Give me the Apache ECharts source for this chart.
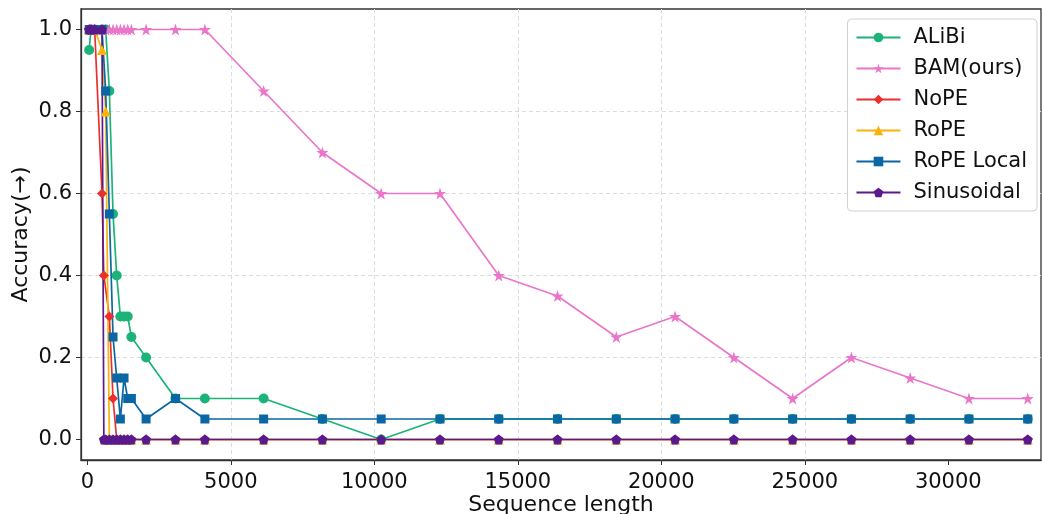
<!DOCTYPE html>
<html><head><meta charset="utf-8">
<script src="https://cdn.jsdelivr.net/npm/echarts@6/dist/echarts.min.js"></script>
<style>html,body{margin:0;padding:0;background:#fff}#c{width:1042px;height:514px}</style>
</head><body><div id="c"></div>
<script>
// Sequence lengths (x values)
const lengths = [64, 128, 256, 512, 576, 640, 768, 896, 1024, 1152, 1280, 1408, 1536,
  2048, 3072, 4096, 6144, 8192, 10240, 12288, 14336, 16384, 18432, 20480, 22528, 24576, 26624, 28672, 30720, 32768];
// Accuracy per method (null = not evaluated at this length)
const alibi = [0.95, 1.0, 1.0, 1.0, null, 1.0, 0.85, 0.55, 0.4, 0.3, 0.3, 0.3, 0.25,
  0.2, 0.1, 0.1, 0.1, 0.05, 0.0, 0.05, 0.05, 0.05, 0.05, 0.05, 0.05, 0.05, 0.05, 0.05, 0.05, 0.05];
const bam = [1.0, 1.0, 1.0, 1.0, null, 1.0, 1.0, 1.0, 1.0, 1.0, 1.0, 1.0, 1.0,
  1.0, 1.0, 1.0, 0.85, 0.7, 0.6, 0.6, 0.4, 0.35, 0.25, 0.3, 0.2, 0.1, 0.2, 0.15, 0.1, 0.1];
const nope = [1.0, 1.0, 1.0, 0.6, 0.4, null, 0.3, 0.1, 0.0, 0.0, 0.0, 0.0, 0.0,
  0.0, 0.0, 0.0, 0.0, 0.0, 0.0, 0.0, 0.0, 0.0, 0.0, 0.0, 0.0, 0.0, 0.0, 0.0, 0.0, 0.0];
const rope = [1.0, 1.0, 1.0, 0.95, null, 0.8, 0.0, 0.0, 0.0, 0.0, 0.0, 0.0, 0.0,
  0.0, 0.0, 0.0, 0.0, 0.0, 0.0, 0.0, 0.0, 0.0, 0.0, 0.0, 0.0, 0.0, 0.0, 0.0, 0.0, 0.0];
const ropeLocal = [1.0, 1.0, 1.0, 1.0, null, 0.85, 0.55, 0.25, 0.15, 0.05, 0.15, 0.1, 0.1,
  0.05, 0.1, 0.05, 0.05, 0.05, 0.05, 0.05, 0.05, 0.05, 0.05, 0.05, 0.05, 0.05, 0.05, 0.05, 0.05, 0.05];
const sinusoidal = [1.0, 1.0, 1.0, 1.0, 0.0, 0.0, 0.0, 0.0, 0.0, 0.0, 0.0, 0.0, 0.0,
  0.0, 0.0, 0.0, 0.0, 0.0, 0.0, 0.0, 0.0, 0.0, 0.0, 0.0, 0.0, 0.0, 0.0, 0.0, 0.0, 0.0];
const xTicks = [0, 5000, 10000, 15000, 20000, 25000, 30000];
const yTicks = [0, 0.2, 0.4, 0.6, 0.8, 1.0];

const STAR = 'path://M50 0 L61.2 34.5 L97.6 34.5 L68.2 55.9 L79.4 90.5 L50 69.1 L20.6 90.5 L31.8 55.9 L2.4 34.5 L38.8 34.5 Z';
const PENT = 'path://M50 0 L97.6 34.5 L79.4 90.5 L20.6 90.5 L2.4 34.5 Z';

function pairs(vals) {
  return lengths.map((x, i) => [x, vals[i]]).filter(p => p[1] !== null);
}
function mk(name, vals, color, symbol, size) {
  return {
    name, type: 'line', data: pairs(vals), symbol, symbolSize: size,
    showAllSymbol: true, connectNulls: true,
    lineStyle: { color, width: 1.7 },
    itemStyle: { color, borderWidth: 0 },
    emphasis: { disabled: true }, animation: false
  };
}
const FONT = 'DejaVu Sans';
const AX = '#333333';
const chart = echarts.init(document.getElementById('c'), null, { renderer: 'canvas' });
chart.setOption({
  animation: false,
  textStyle: { fontFamily: FONT },
  grid: { left: 81, right: 1, top: 9, bottom: 54, outerBoundsMode: 'none', containLabel: false,
    show: true, borderColor: AX, borderWidth: 1.3, backgroundColor: 'transparent' },
  legend: {
    right: 5, top: 19, orient: 'vertical', backgroundColor: '#fff', borderColor: '#d0d0d0', borderWidth: 1, borderRadius: 4,
    padding: [8, 10, 8, 8], itemGap: 10, itemWidth: 44, itemHeight: 12,
    textStyle: { fontFamily: FONT, fontSize: 21, color: '#111', padding: [0, 0, 0, 8] },
    data: ['ALiBi', 'BAM(ours)', 'NoPE', 'RoPE', 'RoPE Local', 'Sinusoidal']
  },
  xAxis: {
    type: 'value', min: -220, max: 33230, minInterval: 5000, maxInterval: 5000,
    name: 'Sequence length', nameLocation: 'middle', nameGap: 34, nameMoveOverlap: false,
    nameTextStyle: { fontFamily: FONT, fontSize: 22, color: '#111' },
    axisLine: { show: true, onZero: false, lineStyle: { color: AX, width: 1.3 } },
    axisTick: { show: true, length: 5, inside: false, customValues: xTicks, lineStyle: { color: AX } },
    axisLabel: { customValues: xTicks, fontFamily: FONT, fontSize: 21, color: '#111', margin: 12, formatter: v => String(v) },
    splitLine: { show: true, showMinLine: false, showMaxLine: false, lineStyle: { color: '#dcdcdc', type: [4, 3], width: 1 } }
  },
  yAxis: {
    type: 'value', min: -0.05, max: 1.05, minInterval: 0.2, maxInterval: 0.2,
    name: 'Accuracy(→)', nameLocation: 'middle', nameGap: 49, nameRotate: 90, nameMoveOverlap: false,
    nameTextStyle: { fontFamily: FONT, fontSize: 22, color: '#111' },
    axisLine: { show: true, onZero: false, lineStyle: { color: AX, width: 1.3 } },
    axisTick: { show: true, length: 5, inside: false, customValues: yTicks, lineStyle: { color: AX } },
    axisLabel: { customValues: yTicks, fontFamily: FONT, fontSize: 21, color: '#111', margin: 9, formatter: v => v.toFixed(1) },
    splitLine: { show: true, showMinLine: false, showMaxLine: false, lineStyle: { color: '#dcdcdc', type: [4, 3], width: 1 } }
  },
  series: [
    mk('ALiBi', alibi, '#1bb377', 'circle', 10),
    mk('BAM(ours)', bam, '#ea76c9', STAR, 12),
    mk('NoPE', nope, '#ea2f2d', 'diamond', 10),
    mk('RoPE', rope, '#fbb20a', 'triangle', 10),
    mk('RoPE Local', ropeLocal, '#0a67a3', 'rect', 9),
    mk('Sinusoidal', sinusoidal, '#591a8e', PENT, 10)
  ]
});
</script></body></html>
